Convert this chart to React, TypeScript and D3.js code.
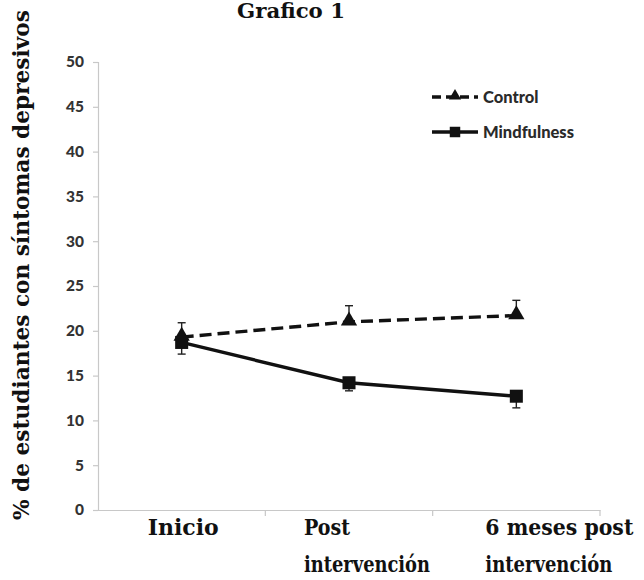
import React, { useRef, useEffect } from "react";
import * as d3 from "d3";

const categories = ["Inicio", "Post intervención", "6 meses post intervención"];
const labelLines = [["Inicio"], ["Post", "intervención"], ["6 meses post", "intervención"]];
const controlValues = [19.3, 21.0, 21.7];
const controlErr = [1.6, 1.8, 1.7];
const mindValues = [18.7, 14.2, 12.7];
const mindErr = [1.3, 0.9, 1.3];
const yTicks = [0, 5, 10, 15, 20, 25, 30, 35, 40, 45, 50];

const W = 644;
const H = 580;

const App = () => {
  const svgRef = useRef<SVGSVGElement>(null);

  useEffect(() => {
    const svg = d3.select(svgRef.current);
    svg.selectAll("*").remove();

    const x = d3.scaleBand().domain(categories).range([98, 600]);
    const y = d3.scaleLinear().domain([0, 50]).range([510, 62]);
    const cx = (c) => (x(c) as number) + x.bandwidth() / 2;

    const axisColor = "#c8c8c8";
    const tickFont = "Lato, 'Open Sans', sans-serif";
    const slab = "'DejaVu Serif', serif";

    // ejes
    const yAxis = svg.append("g").attr("transform", "translate(98,0)")
      .call(d3.axisLeft(y).tickValues(yTicks).tickSize(5).tickPadding(9));
    yAxis.select(".domain").attr("stroke", axisColor).attr("stroke-width", 1.2);
    yAxis.selectAll(".tick line").attr("stroke", axisColor).attr("stroke-width", 1.2);
    yAxis.selectAll(".tick text")
      .attr("font-family", tickFont).attr("font-weight", 900)
      .attr("font-size", 15.5).attr("fill", "#333");

    const xAxis = svg.append("g").attr("transform", "translate(0,510)")
      .call(d3.axisBottom(x).tickSize(0).tickFormat(() => ""));
    xAxis.select(".domain").attr("stroke", axisColor).attr("stroke-width", 1.2);
    xAxis.selectAll(".tick").remove();
    categories.forEach((c) => {
      const xr = (x(c) as number) + x.bandwidth();
      svg.append("line").attr("x1", xr).attr("x2", xr).attr("y1", 510).attr("y2", 516)
        .attr("stroke", axisColor).attr("stroke-width", 1.2);
    });

    // etiquetas de categoría
    const labelDx = [-34, -45, -31];
    const labelWidths = [[71], [46, 126], [148, 127]];
    labelLines.forEach((lines, i) => {
      lines.forEach((t, j) => {
        svg.append("text")
          .attr("x", cx(categories[i]) + labelDx[i])
          .attr("y", 535 + j * 37)
          .attr("font-family", slab).attr("font-weight", 700)
          .attr("font-size", 22).attr("fill", "#111")
          .attr("textLength", labelWidths[i][j])
          .attr("lengthAdjust", "spacingAndGlyphs")
          .text(t);
      });
    });

    // título
    svg.append("text").attr("x", 291).attr("y", 18).attr("text-anchor", "middle")
      .attr("font-family", slab).attr("font-weight", 700).attr("font-size", 20)
      .attr("fill", "#111").attr("textLength", 108).attr("lengthAdjust", "spacingAndGlyphs")
      .text("Grafico 1");

    // título eje Y
    svg.append("text")
      .attr("transform", "translate(29,265) rotate(-90)")
      .attr("text-anchor", "middle")
      .attr("font-family", slab).attr("font-weight", 700).attr("font-size", 22)
      .attr("fill", "#111").attr("textLength", 510).attr("lengthAdjust", "spacingAndGlyphs")
      .text("% de estudiantes con síntomas depresivos");

    // barras de error
    const errG = svg.append("g").attr("stroke", "#222").attr("stroke-width", 1.4);
    categories.forEach((c, i) => {
      const xc = cx(c);
      const top = y(controlValues[i] + controlErr[i]);
      errG.append("line").attr("x1", xc).attr("x2", xc)
        .attr("y1", y(controlValues[i])).attr("y2", top);
      errG.append("line").attr("x1", xc - 4).attr("x2", xc + 4).attr("y1", top).attr("y2", top);
      const bot = y(mindValues[i] - mindErr[i]);
      errG.append("line").attr("x1", xc).attr("x2", xc)
        .attr("y1", y(mindValues[i])).attr("y2", bot);
      errG.append("line").attr("x1", xc - 4).attr("x2", xc + 4).attr("y1", bot).attr("y2", bot);
    });

    const line = d3.line<number>()
      .x((_, i) => cx(categories[i]))
      .y((d) => y(d));

    svg.append("path").datum(controlValues)
      .attr("fill", "none").attr("stroke", "#111").attr("stroke-width", 3.4)
      .attr("stroke-dasharray", "12,6").attr("d", line);
    svg.append("path").datum(mindValues)
      .attr("fill", "none").attr("stroke", "#111").attr("stroke-width", 3.4)
      .attr("d", line);

    const tri = d3.symbol().type(d3.symbolTriangle).size(115);
    const sq = d3.symbol().type(d3.symbolSquare).size(170);

    svg.append("g").selectAll("path").data(controlValues).enter().append("path")
      .attr("d", tri)
      .attr("transform", (d, i) => `translate(${cx(categories[i])},${y(d) - 1})`)
      .attr("fill", "#111");
    svg.append("g").selectAll("path").data(mindValues).enter().append("path")
      .attr("d", sq)
      .attr("transform", (d, i) => `translate(${cx(categories[i])},${y(d)})`)
      .attr("fill", "#111");

    // leyenda
    const legend = svg.append("g").attr("transform", "translate(432,97)");
    legend.append("line").attr("x1", 0).attr("x2", 46).attr("y1", 0).attr("y2", 0)
      .attr("stroke", "#111").attr("stroke-width", 3.4).attr("stroke-dasharray", "9,5");
    legend.append("path").attr("d", d3.symbol().type(d3.symbolTriangle).size(65))
      .attr("transform", "translate(23,-1)").attr("fill", "#111");
    legend.append("text").attr("x", 51).attr("y", 6)
      .attr("font-family", tickFont).attr("font-weight", 900).attr("font-size", 16.5)
      .attr("fill", "#2a2a2a").text("Control");
    legend.append("line").attr("x1", 0).attr("x2", 46).attr("y1", 35).attr("y2", 35)
      .attr("stroke", "#111").attr("stroke-width", 3.4);
    legend.append("path").attr("d", d3.symbol().type(d3.symbolSquare).size(110))
      .attr("transform", "translate(23,35)").attr("fill", "#111");
    legend.append("text").attr("x", 51).attr("y", 41)
      .attr("font-family", tickFont).attr("font-weight", 900).attr("font-size", 16.5)
      .attr("fill", "#2a2a2a").text("Mindfulness");
  }, []);

  return (
    <svg
      ref={svgRef}
      width={W}
      height={H}
      style={{ position: "absolute", left: 0, top: 0, background: "#fff" }}
    />
  );
};

export default App;
